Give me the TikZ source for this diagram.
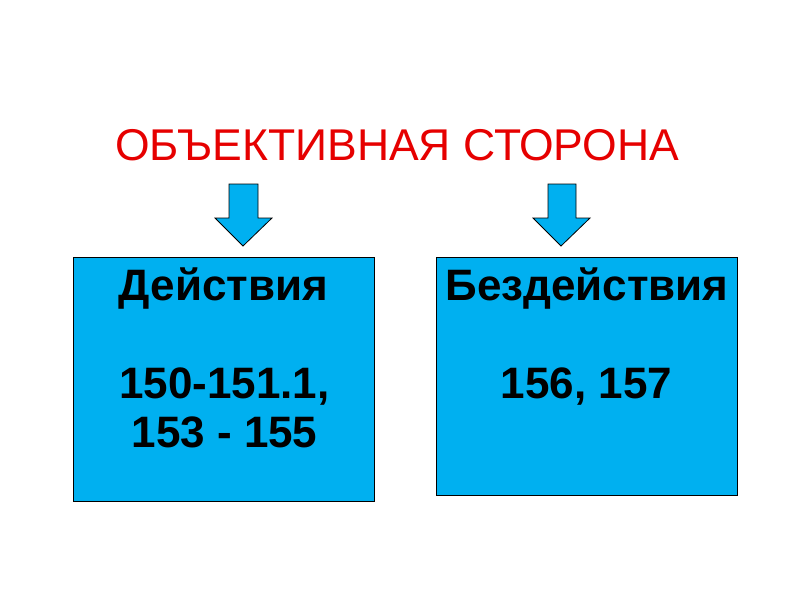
\documentclass[tikz,border=0pt]{standalone}
\usepackage{fontspec}
\setmainfont{Liberation Sans}
\definecolor{boxblue}{RGB}{0,176,240}
\definecolor{titlered}{RGB}{230,0,0}
\begin{document}
\begin{tikzpicture}[x=1pt,y=-1pt,
  box/.style={draw=black,line width=1pt,fill=boxblue,inner sep=0pt},
  blockarrow/.style={draw=black,line width=0.8pt,fill=boxblue,line join=miter},
  boxtext/.style={anchor=base,inner sep=0pt,font=\fontsize{44}{49}\selectfont\bfseries,align=center},
  titletext/.style={anchor=base,inner sep=0pt,font=\fontsize{44.5}{50}\selectfont,text=titlered}]
\useasboundingbox[fill=white] (0,0) rectangle (794,595);
% title
\node[titletext] (title) at (397,160) {ОБЪЕКТИВНАЯ СТОРОНА};
% boxes
\path[box] (73,257) rectangle (374,501);
\path[box] (436,257) rectangle (737,495);
% arrows
\draw[blockarrow] (229,184) -- (258,184) -- (258,218) -- (272,218) -- (243,246) -- (215,218) -- (229,218) -- cycle;
\draw[blockarrow] (548,184) -- (576,184) -- (576,218) -- (590,218) -- (561,246) -- (533,218) -- (548,218) -- cycle;
% texts
\node[boxtext] (act) at (223.5,300) {Действия};
\node[boxtext] (actnum) at (224.5,447) {150-151.1,\\153 - 155};
\node[boxtext] (inact) at (587,300) {Бездействия};
\node[boxtext] (inactnum) at (586.5,398) {156, 157};
\end{tikzpicture}
\end{document}
